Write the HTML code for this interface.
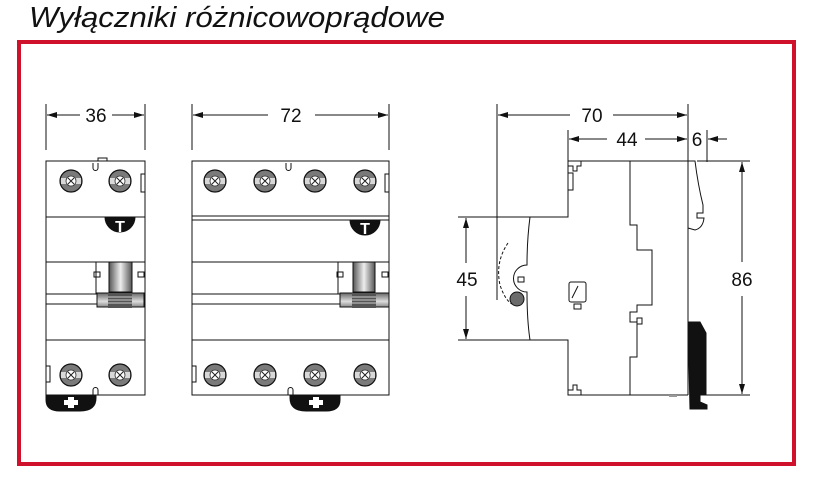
<!DOCTYPE html>
<html><head><meta charset="utf-8"><style>
html,body{margin:0;padding:0;background:#fff;width:826px;height:481px;overflow:hidden}
svg{display:block}
</style></head><body>
<svg width="826" height="481" viewBox="0 0 826 481" xmlns="http://www.w3.org/2000/svg">
<defs>
<g id="scr">
<circle r="11" fill="#7a7a7a" stroke="#111" stroke-width="1.2"/>
<rect x="-10" y="-3" width="20" height="6" fill="#d8d8d8"/>
<circle r="5" fill="#fff" stroke="#333" stroke-width="0.8"/>
<path d="M-3,-3L3,3M3,-3L-3,3" stroke="#222" stroke-width="1"/>
</g>
<marker id="ar" viewBox="0 0 10 6" refX="10" refY="3" markerWidth="10" markerHeight="6" orient="auto" markerUnits="userSpaceOnUse"><path d="M0,0L10,3L0,6z" fill="#111"/></marker>
<linearGradient id="tg" x1="0" x2="1"><stop offset="0" stop-color="#555"/><stop offset="0.5" stop-color="#eee"/><stop offset="1" stop-color="#555"/></linearGradient>
<linearGradient id="tg2" x1="0" x2="0" y1="0" y2="1"><stop offset="0" stop-color="#666"/><stop offset="0.6" stop-color="#ddd"/><stop offset="1" stop-color="#888"/></linearGradient>
</defs>

<text x="29" y="27" font-family="'Liberation Sans',sans-serif" font-style="italic" font-size="29" fill="#111" textLength="416" lengthAdjust="spacingAndGlyphs">Wyłączniki różnicowoprądowe</text>
<rect x="19" y="42" width="775" height="422" fill="none" stroke="#d0112b" stroke-width="4"/>

<g stroke="#111" stroke-width="1" fill="none" font-family="'Liberation Sans',sans-serif">
<line x1="46" y1="104" x2="46" y2="150"/><line x1="145" y1="104" x2="145" y2="150"/>
<line x1="80" y1="115" x2="47" y2="115" marker-end="url(#ar)"/>
<line x1="112" y1="115" x2="144" y2="115" marker-end="url(#ar)"/>
<text x="96" y="122" font-size="19" text-anchor="middle" fill="#111" stroke="none">36</text>
<line x1="192" y1="104" x2="192" y2="150"/><line x1="389" y1="104" x2="389" y2="150"/>
<line x1="268" y1="115" x2="193" y2="115" marker-end="url(#ar)"/>
<line x1="315" y1="115" x2="388" y2="115" marker-end="url(#ar)"/>
<text x="291" y="122" font-size="19" text-anchor="middle" fill="#111" stroke="none">72</text>

<rect x="46" y="161" width="99" height="234"/>
<rect x="98" y="158" width="9" height="3"/>
<path d="M93,163v5a2,2 0 0 0 5,0v-5"/>
<rect x="141" y="174" width="4" height="18"/>
<line x1="46" y1="217" x2="145" y2="217"/>
<line x1="46" y1="262" x2="145" y2="262"/>
<line x1="96" y1="262" x2="96" y2="294"/>
<line x1="46" y1="294" x2="97" y2="294"/>
<line x1="46" y1="304" x2="97" y2="304"/>
<line x1="46" y1="340" x2="145" y2="340"/>
<rect x="46" y="366" width="4" height="16"/>
<path d="M93,395v-5a2,2 0 0 1 5,0v5"/>
<rect x="94" y="272" width="6" height="5"/><rect x="138" y="272" width="6" height="5"/>
<use href="#scr" x="71" y="181" stroke="none"/><use href="#scr" x="120" y="181" stroke="none"/>
<use href="#scr" x="71" y="375" stroke="none"/><use href="#scr" x="120" y="375" stroke="none"/>
<path d="M105,217a15,15 0 0 0 30,0z" fill="#111"/>
<text x="120" y="232" font-size="16" font-weight="bold" text-anchor="middle" fill="#fff" stroke="none">T</text>
<rect x="109" y="262" width="23" height="30" fill="url(#tg)"/>
<rect x="97" y="293" width="47" height="14" fill="url(#tg2)"/>
<rect x="108" y="293" width="24" height="15" fill="#555" stroke="none"/>
<path d="M108,297h24M108,300h24M108,303h24" stroke="#ccc"/>
<path d="M46,395h50v3Q96,411 80,411H60Q46,411 46,400z" fill="#111"/>
<path d="M64,400h4v-3h6v3h4v5h-4v3h-6v-3h-4z" fill="#fff" stroke="none"/>

<rect x="192" y="161" width="197" height="234"/>
<path d="M286,163v5a2,2 0 0 0 5,0v-5"/>
<rect x="385" y="174" width="4" height="18"/>
<line x1="192" y1="216" x2="389" y2="216"/>
<line x1="192" y1="220" x2="389" y2="220"/>
<line x1="192" y1="262" x2="389" y2="262"/>
<line x1="338" y1="262" x2="338" y2="294"/>
<line x1="192" y1="294" x2="340" y2="294"/>
<line x1="192" y1="304" x2="340" y2="304"/>
<line x1="192" y1="340" x2="389" y2="340"/>
<rect x="192" y="366" width="4" height="16"/>
<path d="M288,395v-5a2,2 0 0 1 5,0v5"/>
<rect x="337" y="272" width="6" height="5"/><rect x="382" y="272" width="6" height="5"/>
<use href="#scr" x="215" y="181" stroke="none"/><use href="#scr" x="265" y="181" stroke="none"/><use href="#scr" x="315" y="181" stroke="none"/><use href="#scr" x="365" y="181" stroke="none"/>
<use href="#scr" x="215" y="375" stroke="none"/><use href="#scr" x="265" y="375" stroke="none"/><use href="#scr" x="315" y="375" stroke="none"/><use href="#scr" x="365" y="375" stroke="none"/>
<path d="M350,220a15,15 0 0 0 30,0z" fill="#111"/>
<text x="365" y="234" font-size="16" font-weight="bold" text-anchor="middle" fill="#fff" stroke="none">T</text>
<rect x="353" y="262" width="22" height="30" fill="url(#tg)"/>
<rect x="340" y="293" width="49" height="14" fill="url(#tg2)"/>
<rect x="352" y="293" width="24" height="15" fill="#555" stroke="none"/>
<path d="M352,297h24M352,300h24M352,303h24" stroke="#ccc"/>
<path d="M290,395h50v5Q340,411 326,411H306Q290,411 290,398z" fill="#111"/>
<path d="M309,400h4v-3h6v3h4v5h-4v3h-6v-3h-4z" fill="#fff" stroke="none"/>

<line x1="497" y1="104" x2="497" y2="300"/>
<line x1="688" y1="104" x2="688" y2="395"/>
<line x1="568" y1="130" x2="568" y2="161"/>
<line x1="707" y1="130" x2="707" y2="162"/>
<line x1="570" y1="115" x2="498" y2="115" marker-end="url(#ar)"/>
<line x1="613" y1="115" x2="687" y2="115" marker-end="url(#ar)"/>
<text x="592" y="122" font-size="19" text-anchor="middle" fill="#111" stroke="none">70</text>
<line x1="607" y1="139" x2="569" y2="139" marker-end="url(#ar)"/>
<line x1="645" y1="139" x2="687" y2="139" marker-end="url(#ar)"/>
<text x="627" y="146" font-size="19" text-anchor="middle" fill="#111" stroke="none">44</text>
<line x1="727" y1="139" x2="708" y2="139" marker-end="url(#ar)"/>
<text x="697" y="146" font-size="19" text-anchor="middle" fill="#111" stroke="none">6</text>
<line x1="458" y1="217" x2="530" y2="217"/>
<line x1="458" y1="340" x2="530" y2="340"/>
<line x1="466" y1="263" x2="466" y2="218" marker-end="url(#ar)"/>
<line x1="466" y1="296" x2="466" y2="339" marker-end="url(#ar)"/>
<text x="467" y="286" font-size="19" text-anchor="middle" fill="#111" stroke="none">45</text>
<line x1="697" y1="161" x2="750" y2="161"/>
<line x1="697" y1="395" x2="750" y2="395"/>
<line x1="742" y1="262" x2="742" y2="162" marker-end="url(#ar)"/>
<line x1="742" y1="296" x2="742" y2="394" marker-end="url(#ar)"/>
<text x="742" y="286" font-size="19" text-anchor="middle" fill="#111" stroke="none">86</text>

<path d="M688,161H568V217H530Q527,240 527,265A13,13 0 0 0 527,292Q527,320 530,340H568V395H688"/>
<path d="M568,161v5h5v5h4v-5h4v-5"/>
<rect x="568" y="173" width="5" height="17"/>
<path d="M568,395v-5h5v-5h4v5h4v5"/>
<path d="M630,161V225H637V250H652V305H637V312H630V322H637V357H630V395"/>
<rect x="637" y="318" width="5" height="6"/>
<path d="M688,161H695Q698,185 703,205V213H697V218H704Q703,228 695,230L688,228"/>
<rect x="518" y="277" width="6" height="5"/>
<path d="M508,243Q495,262 500,285Q505,300 512,304" stroke-dasharray="3,2"/>
<circle cx="517" cy="299" r="7" fill="#6b6b6b"/>
<rect x="569" y="282" width="17" height="20" rx="2"/>
<path d="M572,298l6,-12M574,304h7v5h-7z"/>
<path d="M688,322H700L706,333V395H700V402L707,405V409H690Z" fill="#111"/>
<rect x="669" y="395" width="8" height="2" fill="#999" stroke="none"/>
</g>
</svg>
</body></html>
